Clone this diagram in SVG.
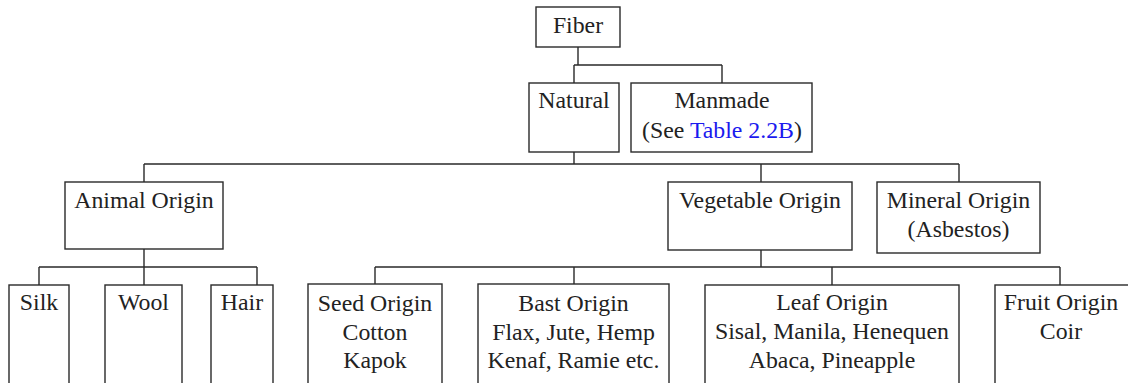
<svg xmlns="http://www.w3.org/2000/svg" width="1128" height="383" viewBox="0 0 1128 383">
<style>
rect{fill:#fff;stroke:#2a2a2a;stroke-width:1.4}
.c path{fill:none;stroke:#2a2a2a;stroke-width:1.4}
text{fill:#222;text-anchor:middle}
.link{fill:#1a1aee}
</style>
<rect x="0" y="0" width="1128" height="383" style="stroke:none"/>
<g class="c" id="connectors">
<path d="M578 47V65M574 65H722M574 65V83M722 65V83"/>
<path d="M574 152V164M144 164H959M144 164V182M761 164V182M959 164V182"/>
<path d="M144 249V267M39 267H257M39 267V285M144 267V285M257 267V285"/>
<path d="M761 250V267M375 267H1060M375 267V284M574 267V284M832 267V285M1060 267V285"/>
</g>
<g font-family="Liberation Serif, serif" font-size="23.8">
<g id="fiber"><rect x="536" y="7" width="84" height="40"/><text x="578" y="33">Fiber</text></g>
<g id="natural"><rect x="529" y="83" width="90" height="69"/><text x="574" y="108">Natural</text></g>
<g id="manmade"><rect x="631" y="83" width="181" height="69"/><text x="722" y="108">Manmade</text><text x="722" y="138">(See <tspan class="link">Table 2.2B</tspan>)</text></g>
<g id="animal"><rect x="65" y="182" width="158" height="67"/><text x="144" y="208">Animal Origin</text></g>
<g id="vegetable"><rect x="668" y="182" width="184" height="68"/><text x="760" y="208">Vegetable Origin</text></g>
<g id="mineral"><rect x="877" y="182" width="163" height="71"/><text x="958.5" y="208">Mineral Origin</text><text x="958.5" y="237">(Asbestos)</text></g>
<g id="silk"><rect x="9" y="285" width="60" height="110"/><text x="39" y="310">Silk</text></g>
<g id="wool"><rect x="105" y="285" width="77" height="110"/><text x="143.5" y="310">Wool</text></g>
<g id="hair"><rect x="211" y="285" width="62" height="110"/><text x="242" y="310">Hair</text></g>
<g id="seed"><rect x="308" y="284" width="134" height="110"/><text x="375" y="311">Seed Origin</text><text x="375" y="340">Cotton</text><text x="375" y="368">Kapok</text></g>
<g id="bast"><rect x="478" y="284" width="191" height="110"/><text x="573.5" y="311">Bast Origin</text><text x="573.5" y="340">Flax, Jute, Hemp</text><text x="573.5" y="368">Kenaf, Ramie etc.</text></g>
<g id="leaf"><rect x="705" y="285" width="254" height="110"/><text x="832" y="310">Leaf Origin</text><text x="832" y="339">Sisal, Manila, Henequen</text><text x="832" y="368">Abaca, Pineapple</text></g>
<g id="fruit"><rect x="995" y="285" width="140" height="110"/><text x="1061" y="310">Fruit Origin</text><text x="1061" y="339">Coir</text></g>
</g>
</svg>
